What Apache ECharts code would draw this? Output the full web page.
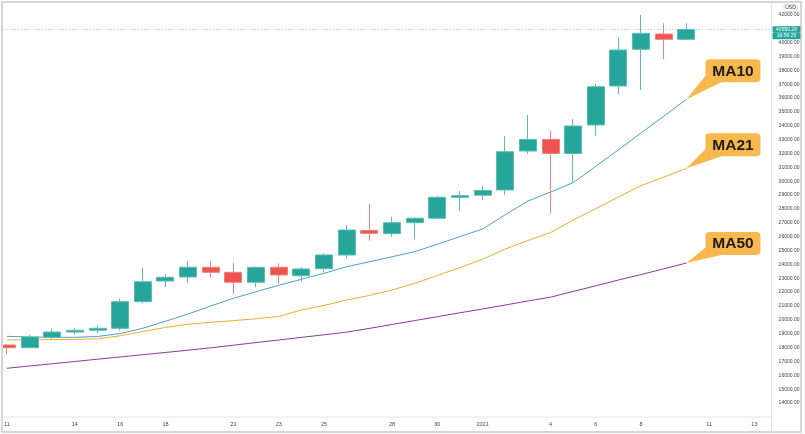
<!DOCTYPE html>
<html><head><meta charset="utf-8">
<script src="https://cdn.jsdelivr.net/npm/echarts@6/dist/echarts.min.js"></script>
<style>html,body{margin:0;padding:0;background:#fff}#c{width:805px;height:434px}</style>
</head><body><div id="c"></div>
<script>
// Day labels (Dec 11, 2020 .. Jan 13, 2021)
const categories = ['11','12','13','14','15','16','17','18','19','20','21','22','23','24','25','26','27','28','29','30','31',
  '2021','2','3','4','5','6','7','8','9','10','11','12','13'];
const shownTickIndex = [0,3,5,7,10,12,14,17,19,21,24,26,28,31,33];
const opens  = [18185,17990,18740,19120,19245,19390,21310,22800,23090,23790,23430,22710,23790,23185,23690,24680,26450,26220,27010,27330,28840,28990,29370,32180,33020,32000,34060,36870,39520,40620,40240];
const closes = [17990,18760,19120,19245,19390,21310,22750,23070,23790,23430,22710,23790,23235,23670,24680,26480,26240,27010,27330,28840,28960,29340,32130,33020,32010,33985,36820,39470,40674,40240,40950.28];
const lows   = [17535,17960,18600,18955,19070,19220,21190,22350,22680,23070,21860,22350,22590,22750,23430,24440,25710,26000,25810,27300,27850,28650,29010,31970,27690,29900,33260,36290,36580,38800,40170];
const highs  = [18260,18900,19360,19390,19555,21550,23790,23285,24245,24245,24125,23850,24080,23790,24800,26840,28360,27440,27380,28930,29300,29680,33260,34780,33650,34490,37015,40360,42000,41395,41400];
const ma10 = [18810,18760,18740,18740,18800,19010,19390,19895,20420,21000,21550,22030,22490,22925,23360,23830,24190,24550,24920,25450,26010,26550,27580,28570,29220,29900,31080,32270,33490,34690,35910];
const ma21 = [18545,18560,18575,18590,18630,18850,19160,19450,19680,19825,19940,20080,20240,20710,21035,21430,21760,22150,22630,23200,23770,24370,25110,25720,26300,27200,28020,28860,29690,30300,30930];
const ma50 = [16505,16670,16830,16995,17160,17320,17485,17645,17810,17980,18170,18360,18545,18735,18920,19115,19380,19665,19945,20225,20510,20780,21070,21360,21635,22050,22455,22875,23270,23680,24100];
const maNames = ['MA10','MA21','MA50'];
const maColors = ['#4b9fcf','#f0ab2f','#8b3a97'];
const lastTime = '16:56:25';
const currency = 'USD';

const candleData = opens.map((o,i)=>[o, closes[i], lows[i], highs[i]]);
const UP='#26a69a', DOWN='#ef5350';

const chart = echarts.init(document.getElementById('c'), null, {renderer:'canvas'});
const option = {
  animation:false,
  backgroundColor:'#ffffff',
  grid:{left:6.9, right:50.6, top:3, bottom:17.14, containLabel:false},
  xAxis:{type:'category', data:categories, boundaryGap:false,
    axisLine:{show:false}, axisTick:{show:false}, splitLine:{show:false},
    axisLabel:{interval:(i)=>shownTickIndex.includes(i), fontSize:5.5, color:'#444', margin:5,
      fontFamily:'Liberation Sans, Arial, sans-serif'}},
  yAxis:{type:'value', position:'right', min:13000, max:42860, interval:1000,
    axisLine:{show:false}, axisTick:{show:false}, splitLine:{show:false},
    axisLabel:{fontSize:5, color:'#444', margin:24.2, showMinLabel:false, showMaxLabel:false,
      fontFamily:'Liberation Sans, Arial, sans-serif', formatter:(v)=>v.toFixed(2)}},
  series:[
    {type:'candlestick', data:candleData, barWidth:17.5, clip:false,
      itemStyle:{color:UP, color0:DOWN, borderColor:'#5dbbb1', borderColor0:'#f17f7d', borderWidth:1}},
    {type:'line', data:ma10, name:maNames[0], showSymbol:false, clip:false, lineStyle:{color:maColors[0], width:1}, z:1},
    {type:'line', data:ma21, name:maNames[1], showSymbol:false, clip:false, lineStyle:{color:maColors[1], width:1}, z:1},
    {type:'line', data:ma50, name:maNames[2], showSymbol:false, clip:false, lineStyle:{color:maColors[2], width:1}, z:1}
  ]
};
chart.setOption(option);

// Decorations anchored to data
const last = opens.length-1;
const g = [];
const py = chart.convertToPixel({yAxisIndex:0}, closes[last]);
// current price line
g.push({type:'line', shape:{x1:3,y1:py,x2:771,y2:py}, style:{stroke:'#26a69a', lineWidth:1, lineDash:[1,2], opacity:0.45}, z:1});
// left clip strip
g.push({type:'rect', shape:{x:0,y:0,width:3,height:434}, style:{fill:'#fff'}, z:100});
// separators
g.push({type:'line', shape:{x1:3,y1:417,x2:771,y2:417}, style:{stroke:'#e4e4e4', lineWidth:1}, z:100});
g.push({type:'line', shape:{x1:771.5,y1:3,x2:771.5,y2:431}, style:{stroke:'#e4e4e4', lineWidth:1}, z:100});
// border
g.push({type:'rect', shape:{x:2,y:2,width:799,height:430}, style:{fill:'none', stroke:'#c9c9c9', lineWidth:1.5}, z:101});
// USD box
g.push({type:'rect', shape:{x:784,y:4.5,width:13,height:7,r:1.5}, style:{fill:'#fff', stroke:'#cfcfcf', lineWidth:0.7}, z:102});
g.push({type:'text', style:{x:790.5,y:8,text:currency, fontSize:5, fill:'#333', align:'center', verticalAlign:'middle', fontFamily:'Liberation Sans, Arial'}, z:103});
// price label
g.push({type:'rect', shape:{x:772.5,y:py-3.3,width:28,height:6.6,r:1}, style:{fill:UP}, z:102});
g.push({type:'text', style:{x:786.5,y:py,text:closes[last].toFixed(2), fontSize:5, fill:'#fff', align:'center', verticalAlign:'middle', fontFamily:'Liberation Sans, Arial'}, z:103});
g.push({type:'rect', shape:{x:772.5,y:py+3.3,width:28,height:6.6,r:1}, style:{fill:UP}, z:102});
g.push({type:'text', style:{x:786.5,y:py+6.6,text:lastTime, fontSize:5, fill:'#fff', align:'center', verticalAlign:'middle', fontFamily:'Liberation Sans, Arial'}, z:103});
// MA callouts
const maVals = [ma10, ma21, ma50];
const boxOffsets = [40, 35, 31];
maVals.forEach((arr, k)=>{
  const p = chart.convertToPixel({xAxisIndex:0, yAxisIndex:0}, [last, arr[last]]);
  const bx = p[0]+19, bw = 55, bh = 23, by = p[1]-boxOffsets[k];
  g.push({type:'polygon', shape:{points:[[p[0],p[1]],[bx+2,by+bh-9],[bx+16,by+bh]]}, style:{fill:'#f8b84e'}, z:104});
  g.push({type:'rect', shape:{x:bx,y:by,width:bw,height:bh,r:4}, style:{fill:'#f8b84e'}, z:104});
  g.push({type:'text', style:{x:bx+bw/2,y:by+bh/2+0.5,text:maNames[k], fontSize:15.5, fontWeight:'bold', fill:'#1c1c1c', align:'center', verticalAlign:'middle', fontFamily:'Liberation Sans, Arial'}, z:105});
});
chart.setOption({graphic:g});
</script>
</body></html>
